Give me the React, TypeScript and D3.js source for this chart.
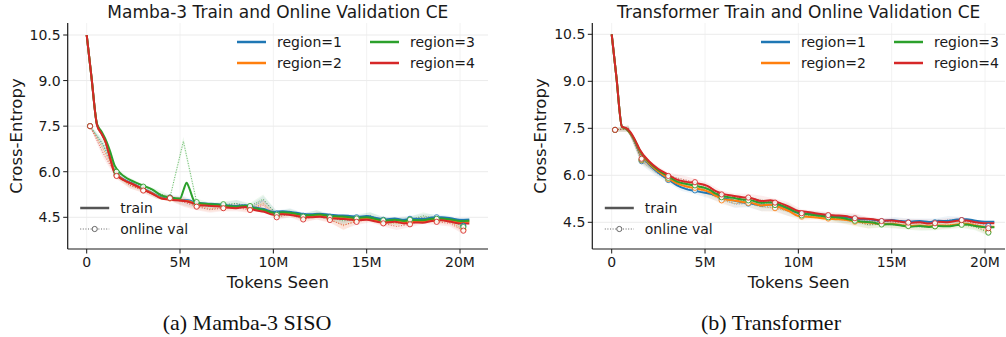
import React from "react";
import * as d3 from "d3";

// tokens seen (millions) for the train curves and the online-val evaluations
const trainTokens = [0, 0.25, 0.55, 0.8, 1, 1.25, 1.5, 2, 2.5, 3, 3.5, 4, 4.5, 5, 5.2, 5.35, 5.5, 5.75, 6, 6.5, 7, 7.5, 8, 8.5, 9, 9.5, 10, 10.5, 11, 11.5, 12, 12.5, 13, 13.5, 14, 14.5, 15, 15.5, 16, 16.5, 17, 17.5, 18, 18.5, 19, 19.5, 20, 20.5];
const valTokens = [0.18, 0.89, 1.6, 2.32, 3.03, 3.75, 4.46, 5.18, 5.89, 6.6, 7.32, 8.03, 8.75, 9.46, 10.18, 10.89, 11.6, 12.32, 13.03, 13.75, 14.46, 15.18, 15.89, 16.6, 17.32, 18.03, 18.75, 19.46, 20.18];

const regionNames = ["region=1", "region=2", "region=3", "region=4"];
const regionColors = ["#1f77b4", "#ff7f0e", "#2ca02c", "#d62728"];
const yTicks = [4.5, 6.0, 7.5, 9.0, 10.5];
const xTicks = [0, 5, 10, 15, 20];
const xTickLabels = ["0", "5M", "10M", "15M", "20M"];

// Mamba-3 SISO
const mambaTrain1 = [10.5, 9.15, 7.55, 7.25, 7.0, 6.5, 6.0, 5.74, 5.6, 5.45, 5.3, 5.15, 5.1, 5.08, 5.07, 5.06, 5.05, 5.0, 4.97, 4.95, 4.93, 4.9, 4.87, 4.9, 4.82, 4.77, 4.68, 4.7, 4.67, 4.62, 4.6, 4.62, 4.58, 4.56, 4.55, 4.52, 4.54, 4.48, 4.43, 4.46, 4.42, 4.45, 4.44, 4.49, 4.5, 4.47, 4.42, 4.43];
const mambaTrain2 = [10.5, 9.15, 7.55, 7.25, 7.0, 6.48, 5.98, 5.72, 5.58, 5.43, 5.29, 5.13, 5.09, 5.06, 5.05, 5.04, 5.02, 4.97, 4.93, 4.91, 4.89, 4.85, 4.83, 4.87, 4.77, 4.72, 4.62, 4.64, 4.61, 4.56, 4.54, 4.56, 4.52, 4.5, 4.47, 4.44, 4.46, 4.4, 4.36, 4.39, 4.34, 4.37, 4.36, 4.42, 4.44, 4.39, 4.34, 4.35];
const mambaTrain3 = [10.5, 9.15, 7.58, 7.32, 7.08, 6.68, 6.2, 5.85, 5.68, 5.55, 5.42, 5.22, 5.15, 5.12, 5.42, 5.64, 5.45, 5.05, 4.97, 4.94, 4.92, 4.88, 4.85, 4.88, 4.8, 4.74, 4.65, 4.67, 4.64, 4.59, 4.57, 4.59, 4.55, 4.53, 4.51, 4.48, 4.5, 4.44, 4.39, 4.42, 4.38, 4.41, 4.4, 4.45, 4.46, 4.43, 4.38, 4.39];
const mambaTrain4 = [10.5, 9.15, 7.55, 7.25, 7.0, 6.45, 5.95, 5.72, 5.58, 5.43, 5.28, 5.12, 5.08, 5.05, 5.04, 5.03, 5.0, 4.95, 4.9, 4.88, 4.86, 4.82, 4.8, 4.84, 4.74, 4.68, 4.58, 4.6, 4.57, 4.52, 4.5, 4.52, 4.48, 4.45, 4.43, 4.4, 4.42, 4.36, 4.32, 4.35, 4.3, 4.33, 4.32, 4.38, 4.4, 4.35, 4.3, 4.3];
const mambaVal1 = [7.5, 6.85, 5.9, 5.6, 5.42, 5.22, 5.15, 5.05, 4.92, 4.85, 4.88, 4.95, 4.82, 5.05, 4.62, 4.7, 4.55, 4.6, 4.52, 4.45, 4.5, 4.55, 4.42, 4.38, 4.45, 4.5, 4.5, 4.45, 4.22];
const mambaVal2 = [7.5, 6.75, 5.88, 5.55, 5.4, 5.2, 5.12, 5.02, 4.88, 4.78, 4.82, 4.86, 4.77, 4.95, 4.55, 4.63, 4.47, 4.55, 4.45, 4.22, 4.4, 4.48, 4.33, 4.3, 4.32, 4.45, 4.4, 4.35, 4.1];
const mambaVal3 = [7.5, 6.9, 6.0, 5.7, 5.51, 5.32, 5.15, 7.0, 5.0, 4.88, 4.93, 4.95, 4.87, 5.1, 4.58, 4.68, 4.52, 4.62, 4.5, 4.38, 4.46, 4.55, 4.4, 4.35, 4.42, 4.55, 4.45, 4.42, 4.18];
const mambaVal4 = [7.5, 6.6, 5.86, 5.55, 5.38, 5.2, 5.13, 5.0, 4.85, 4.75, 4.8, 4.82, 4.74, 4.9, 4.5, 4.6, 4.43, 4.55, 4.41, 4.25, 4.35, 4.45, 4.3, 4.2, 4.27, 4.4, 4.35, 4.3, 4.06];
const mambaValSpread = [0.05, 0.15, 0.1, 0.1, 0.08, 0.1, 0.08, 0.15, 0.12, 0.1, 0.1, 0.12, 0.1, 0.15, 0.1, 0.1, 0.1, 0.12, 0.1, 0.15, 0.1, 0.12, 0.1, 0.12, 0.1, 0.12, 0.1, 0.1, 0.12];

// Transformer
const transTrain1 = [10.5, 9.15, 7.55, 7.46, 7.32, 7.07, 6.74, 6.35, 6.08, 5.88, 5.68, 5.56, 5.5, 5.44, 5.42, 5.4, 5.37, 5.32, 5.27, 5.2, 5.14, 5.1, 5.04, 5.07, 5.0, 4.9, 4.8, 4.77, 4.74, 4.71, 4.69, 4.67, 4.62, 4.6, 4.58, 4.55, 4.57, 4.54, 4.52, 4.54, 4.51, 4.55, 4.54, 4.59, 4.6, 4.55, 4.52, 4.52];
const transTrain2 = [10.5, 9.15, 7.55, 7.47, 7.33, 7.09, 6.77, 6.38, 6.12, 5.92, 5.74, 5.64, 5.58, 5.52, 5.47, 5.43, 5.37, 5.3, 5.24, 5.2, 5.15, 5.12, 5.04, 5.06, 4.98, 4.86, 4.7, 4.68, 4.65, 4.62, 4.6, 4.58, 4.53, 4.5, 4.48, 4.44, 4.45, 4.41, 4.38, 4.4, 4.37, 4.4, 4.39, 4.43, 4.45, 4.4, 4.36, 4.36];
const transTrain3 = [10.5, 9.15, 7.55, 7.48, 7.35, 7.11, 6.8, 6.42, 6.16, 5.98, 5.8, 5.72, 5.66, 5.6, 5.55, 5.5, 5.44, 5.38, 5.33, 5.28, 5.23, 5.2, 5.12, 5.14, 5.06, 4.94, 4.8, 4.76, 4.72, 4.68, 4.66, 4.62, 4.55, 4.52, 4.49, 4.43, 4.44, 4.4, 4.36, 4.38, 4.35, 4.38, 4.37, 4.41, 4.43, 4.38, 4.34, 4.34];
const transTrain4 = [10.5, 9.15, 7.55, 7.5, 7.38, 7.13, 6.82, 6.45, 6.2, 6.03, 5.86, 5.79, 5.75, 5.69, 5.64, 5.58, 5.52, 5.45, 5.4, 5.35, 5.3, 5.27, 5.18, 5.2, 5.12, 5.0, 4.86, 4.83, 4.78, 4.74, 4.72, 4.7, 4.64, 4.62, 4.6, 4.55, 4.56, 4.52, 4.48, 4.5, 4.46, 4.52, 4.5, 4.55, 4.56, 4.5, 4.47, 4.47];
const transVal1 = [7.45, 7.48, 6.45, 6.1, 5.85, 5.62, 5.52, 5.42, 5.25, 5.08, 5.1, 5.0, 4.98, 4.85, 4.75, 4.75, 4.7, 4.62, 4.6, 4.5, 4.53, 4.55, 4.5, 4.5, 4.5, 4.58, 4.57, 4.5, 4.38];
const transVal2 = [7.45, 7.47, 6.48, 6.15, 5.88, 5.7, 5.6, 5.45, 5.2, 5.1, 5.12, 5.0, 4.95, 4.85, 4.68, 4.68, 4.62, 4.58, 4.52, 4.42, 4.45, 4.44, 4.4, 4.38, 4.38, 4.42, 4.45, 4.38, 4.2];
const transVal3 = [7.45, 7.5, 6.5, 6.2, 5.92, 5.78, 5.68, 5.52, 5.3, 5.2, 5.2, 5.1, 5.05, 4.95, 4.72, 4.72, 4.66, 4.6, 4.55, 4.42, 4.43, 4.42, 4.38, 4.35, 4.37, 4.4, 4.42, 4.35, 4.17];
const transVal4 = [7.45, 7.5, 6.53, 6.25, 5.98, 5.88, 5.78, 5.6, 5.39, 5.3, 5.29, 5.2, 5.13, 5.0, 4.79, 4.78, 4.73, 4.68, 4.63, 4.55, 4.54, 4.5, 4.49, 4.48, 4.47, 4.52, 4.57, 4.45, 4.31];
const transValSpread = [0.05, 0.1, 0.12, 0.1, 0.1, 0.12, 0.12, 0.15, 0.12, 0.12, 0.12, 0.15, 0.12, 0.15, 0.12, 0.1, 0.1, 0.12, 0.15, 0.12, 0.1, 0.12, 0.12, 0.12, 0.12, 0.12, 0.1, 0.1, 0.1];

const panels = [
  {
    title: "Mamba-3 Train and Online Validation CE",
    caption: "(a) Mamba-3 SISO",
    train: [mambaTrain1, mambaTrain2, mambaTrain3, mambaTrain4],
    val: [mambaVal1, mambaVal2, mambaVal3, mambaVal4],
    spread: mambaValSpread,
    g: { left: 67.7, right: 488, top: 23, bottom: 249, x0: 86.7, x20: 460, y45: 217.3, y105: 35, leg: 237, captionX: 247 },
  },
  {
    title: "Transformer Train and Online Validation CE",
    caption: "(b) Transformer",
    train: [transTrain1, transTrain2, transTrain3, transTrain4],
    val: [transVal1, transVal2, transVal3, transVal4],
    spread: transValSpread,
    g: { left: 592.3, right: 1005, top: 23, bottom: 249, x0: 611.7, x20: 985, y45: 222.3, y105: 34.3, leg: 761, captionX: 771 },
  },
];

const FONT = "DejaVu Sans, sans-serif";
const INK = "#1a1a1a";

function Panel({ p }) {
  const g = p.g;
  const x = d3.scaleLinear().domain([0, 20]).range([g.x0, g.x20]);
  const y = d3.scaleLinear().domain([4.5, 10.5]).range([g.y45, g.y105]);

  const trainLine = d3
    .line<number>()
    .x((_, i) => x(trainTokens[i]))
    .y((d) => y(d))
    .curve(d3.curveMonotoneX);
  const valLine = d3
    .line<number>()
    .x((_, i) => x(valTokens[i]))
    .y((d) => y(d));
  const band = d3
    .area<number>()
    .x((_, i) => x(valTokens[i]))
    .y0((d, i) => y(d - p.spread[i]))
    .y1((d, i) => y(d + p.spread[i]));

  const midY = (g.top + g.bottom) / 2;
  const midX = (g.left + g.right) / 2;

  return (
    <g>
      {/* grid */}
      {xTicks.map((t) => (
        <line key={"gx" + t} x1={x(t)} x2={x(t)} y1={g.top} y2={g.bottom} stroke="#f2f2f2" strokeWidth={1} />
      ))}
      {yTicks.map((t) => (
        <line key={"gy" + t} x1={g.left} x2={g.right} y1={y(t)} y2={y(t)} stroke="#ebebeb" strokeWidth={1} />
      ))}

      {/* val bands */}
      {p.val.map((v, i) => (
        <path key={"b" + i} d={band(v)} fill={regionColors[i]} opacity={0.08} />
      ))}
      {/* val dotted lines */}
      {p.val.map((v, i) => (
        <path key={"v" + i} d={valLine(v)} fill="none" stroke={regionColors[i]} strokeWidth={1} strokeDasharray="1 1.6" opacity={0.7} />
      ))}
      {/* train lines */}
      {p.train.map((s, i) => (
        <path key={"t" + i} d={trainLine(s)} fill="none" stroke={regionColors[i]} strokeWidth={2} strokeLinejoin="round" />
      ))}
      {/* val markers every other evaluation */}
      {p.val.map((v, i) =>
        v.map((d, j) =>
          j % 2 === 0 ? (
            <circle key={"m" + i + "-" + j} cx={x(valTokens[j])} cy={y(d)} r={2.6} fill="white" stroke={regionColors[i]} strokeWidth={1} opacity={0.85} />
          ) : null
        )
      )}

      {/* spines */}
      <line x1={g.left} x2={g.left} y1={g.top} y2={g.bottom} stroke={INK} strokeWidth={1.2} />
      <line x1={g.left} x2={g.right} y1={g.bottom} y2={g.bottom} stroke={INK} strokeWidth={1.2} />

      {/* y ticks */}
      {yTicks.map((t) => (
        <g key={"yt" + t}>
          <line x1={g.left - 4.5} x2={g.left} y1={y(t)} y2={y(t)} stroke={INK} strokeWidth={1} />
          <text x={g.left - 7} y={y(t)} dy="0.36em" textAnchor="end" fontSize={14} fill={INK} fontFamily={FONT}>
            {d3.format(".1f")(t)}
          </text>
        </g>
      ))}
      {/* x ticks */}
      {xTicks.map((t, i) => (
        <g key={"xt" + t}>
          <line x1={x(t)} x2={x(t)} y1={g.bottom} y2={g.bottom + 4.5} stroke={INK} strokeWidth={1} />
          <text x={x(t)} y={g.bottom + 18} textAnchor="middle" fontSize={14} fill={INK} fontFamily={FONT}>
            {xTickLabels[i]}
          </text>
        </g>
      ))}

      {/* labels */}
      <text x={midX} y={18} textAnchor="middle" fontSize={17} fill={INK} fontFamily={FONT}>
        {p.title}
      </text>
      <text x={midX} y={288} textAnchor="middle" fontSize={16.5} fill={INK} fontFamily={FONT}>
        Tokens Seen
      </text>
      <text transform={`translate(${g.left - 46},${midY}) rotate(-90)`} textAnchor="middle" fontSize={16.5} fill={INK} fontFamily={FONT}>
        Cross-Entropy
      </text>
      <text x={g.captionX} y={330} textAnchor="middle" fontSize={22} fill="#111" fontFamily="Liberation Serif, Times New Roman, serif">
        {p.caption}
      </text>

      {/* region legend */}
      {regionNames.map((name, i) => {
        const lx = g.leg + (i >= 2 ? 133 : 0);
        const ly = i % 2 === 0 ? 42 : 63;
        return (
          <g key={"lg" + i}>
            <line x1={lx} x2={lx + 29} y1={ly} y2={ly} stroke={regionColors[i]} strokeWidth={2.5} />
            <text x={lx + 40} y={ly} dy="0.36em" fontSize={14} fill={INK} fontFamily={FONT}>
              {name}
            </text>
          </g>
        );
      })}

      {/* style legend */}
      <line x1={g.left + 12.5} x2={g.left + 41.5} y1={208} y2={208} stroke="#555" strokeWidth={2.5} />
      <text x={g.left + 52.5} y={208} dy="0.36em" fontSize={14} fill={INK} fontFamily={FONT}>
        train
      </text>
      <line x1={g.left + 12.5} x2={g.left + 41.5} y1={229} y2={229} stroke="#666" strokeWidth={1} strokeDasharray="1 1.6" />
      <circle cx={g.left + 27} cy={229} r={2.6} fill="white" stroke="#666" strokeWidth={1} />
      <text x={g.left + 52.5} y={229} dy="0.36em" fontSize={14} fill={INK} fontFamily={FONT}>
        online val
      </text>
    </g>
  );
}

export default function App() {
  return (
    <svg width={1006} height={337} style={{ position: "absolute", left: 0, top: 0, background: "white" }}>
      {panels.map((p, i) => (
        <Panel key={i} p={p} />
      ))}
    </svg>
  );
}
